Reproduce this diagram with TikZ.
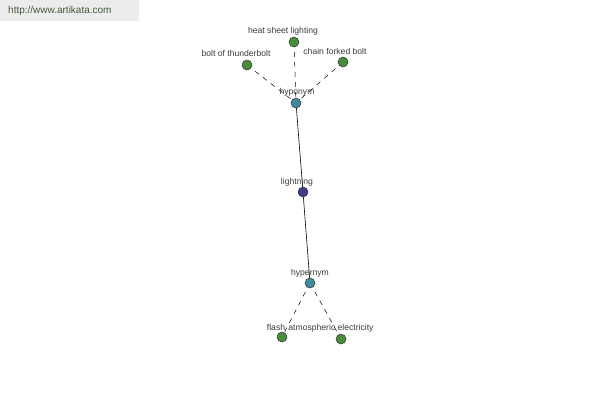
\documentclass[tikz,border=0pt]{standalone}
\usepackage{fontspec}
\setmainfont{Liberation Sans}
\definecolor{leafc}{RGB}{72,140,60}
\definecolor{relc}{RGB}{64,140,156}
\definecolor{corec}{RGB}{60,64,140}
\definecolor{labc}{RGB}{60,60,60}
\definecolor{wmbg}{RGB}{236,236,236}
\definecolor{wmtx}{RGB}{70,90,60}
\begin{document}
\begin{tikzpicture}[x=1pt,y=-1pt,
  dot/.style={circle,draw=black!80,line width=0.5pt,minimum size=10pt,inner sep=0pt},
  leaf/.style={dot,fill=leafc},
  rel/.style={dot,fill=relc},
  core/.style={dot,fill=corec},
  lab/.style={text=labc,font=\fontsize{8.6}{9}\selectfont,inner sep=0pt},
  dashline/.style={dashed,dash pattern=on 5pt off 5pt,line width=0.5pt},
  solidline/.style={line width=0.6pt}]
\useasboundingbox (0,0) rectangle (600,400);
\fill[white] (0,0) rectangle (600,400);
\fill[wmbg] (0,0) rectangle (139,21);
\node[anchor=west,text=wmtx,font=\fontsize{10}{11}\selectfont,inner sep=0pt] (wm) at (8,11) {http://www.artikata.com};
\coordinate (chyp) at (296,103);
\coordinate (cheat) at (294,42);
\coordinate (cbolt) at (247,65);
\coordinate (cchain) at (343,62);
\coordinate (clight) at (303,192);
\coordinate (chyper) at (310,283);
\coordinate (cflash) at (282,337);
\coordinate (catm) at (341,339);
\draw[dashline] (cheat) -- (chyp);
\draw[dashline] (cbolt) -- (chyp);
\draw[dashline] (cchain) -- (chyp);
\draw[dashline] (chyper) -- (cflash);
\draw[dashline] (chyper) -- (catm);
\draw[solidline] (chyp) -- (clight) -- (chyper);
\node[rel] (hyp) at (chyp) {};
\node[leaf] (heat) at (cheat) {};
\node[leaf] (bolt) at (cbolt) {};
\node[leaf] (chain) at (cchain) {};
\node[core] (light) at (clight) {};
\node[rel] (hyper) at (chyper) {};
\node[leaf] (flash) at (cflash) {};
\node[leaf] (atm) at (catm) {};
\node[lab] (lheat) at (283,31) {heat sheet lighting};
\node[lab] (lbolt) at (236,53) {bolt of thunderbolt};
\node[lab] (lchain) at (335,51) {chain forked bolt};
\node[lab] (lhyp) at (297,92) {hyponym};
\node[lab] (llight) at (297,182) {lightning};
\node[lab] (lhyper) at (310,273) {hypernym};
\node[lab] (lflash) at (276,327) {flash};
\node[lab] (latm) at (331,328) {atmospheric electricity};
\end{tikzpicture}
\end{document}
